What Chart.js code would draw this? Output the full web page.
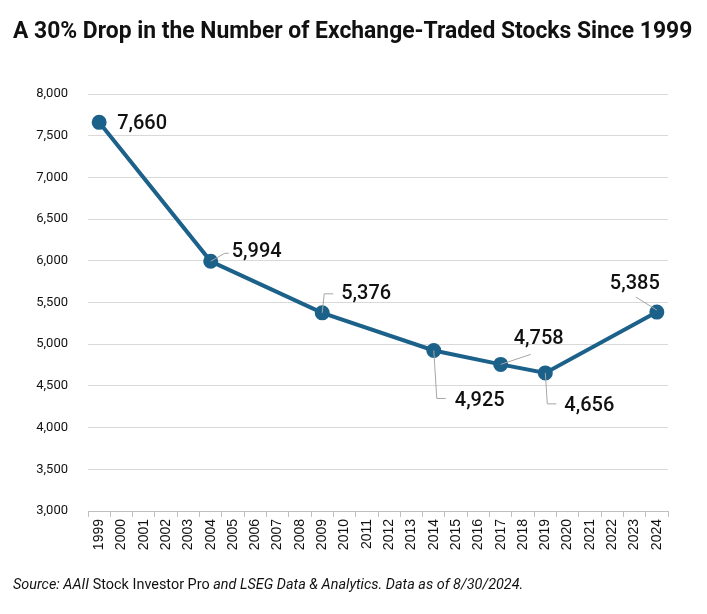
<!DOCTYPE html>
<html>
<head>
<meta charset="utf-8">
<script src="https://cdn.jsdelivr.net/npm/chart.js@4.4.1/dist/chart.umd.min.js"></script>
<style>
  body { margin: 0; background: #fff; }
  #wrap { position: relative; width: 707px; height: 614px; }
  #title { position: absolute; left: 13px; top: 17px; font: bold 23px "Roboto", sans-serif; color: #111; white-space: nowrap; transform-origin: 0 0; }
  #source { position: absolute; left: 13px; top: 576px; font: italic 14.5px "Roboto", sans-serif; color: #111; white-space: nowrap; transform-origin: 0 0; }
  #source span { font-style: normal; }
  canvas { position: absolute; left: 0; top: 0; }
</style>
</head>
<body>
<div id="wrap">
  <canvas id="stocks-chart" width="707" height="614"></canvas>
  <div id="title">A 30% Drop in the Number of Exchange-Traded Stocks Since 1999</div>
  <div id="source">Source: AAII <span>Stock Investor Pro</span> and LSEG Data &amp; Analytics. Data as of 8/30/2024.</div>
</div>
<script>
var years = ['1999','2000','2001','2002','2003','2004','2005','2006','2007','2008','2009','2010','2011','2012',
             '2013','2014','2015','2016','2017','2018','2019','2020','2021','2022','2023','2024'];
var stockCounts = [7660,null,null,null,null,5994,null,null,null,null,5376,null,null,null,
                   null,4925,null,null,4758,null,4656,null,null,null,null,5385];
var yTicks = [3000,3500,4000,4500,5000,5500,6000,6500,7000,7500,8000];

// squeeze the condensed-looking texts to the reference widths
function fitWidth(id, w) {
    var el = document.getElementById(id);
    el.style.transform = 'scaleX(' + (w / el.offsetWidth) + ')';
}
fitWidth('title', 679);
fitWidth('source', 510);

// label placement per year with a value: [dx, dy, leader points...] relative to the point
var labelPlace = {
    '1999': { dx: 18, dy: 2, leader: null },
    '2004': { dx: 21, dy: -9, leader: [[0,0],[14,-8],[18,-8]] },
    '2009': { dx: 19, dy: -19, leader: [[0,0],[2,-19],[11,-19]] },
    '2014': { dx: 21, dy: 51, leader: [[0,0],[3,48],[12,48]] },
    '2017': { dx: 13, dy: -25, leader: [[0,0],[30,-10]] },
    '2019': { dx: 19, dy: 33, leader: [[0,0],[2,31],[11,31]] },
    '2024': { dx: -47, dy: -28, leader: [[-21,-15],[0,-2]] }
};

var valueLabels = {
    id: 'valueLabels',
    afterDatasetsDraw: function(chart) {
        var ctx = chart.ctx;
        var meta = chart.getDatasetMeta(0);
        ctx.save();
        meta.data.forEach(function(pt, i) {
            var v = stockCounts[i];
            if (v === null) return;
            var p = labelPlace[years[i]];
            if (p.leader) {
                ctx.strokeStyle = '#a6a6a6';
                ctx.lineWidth = 1;
                ctx.beginPath();
                p.leader.forEach(function(q, k) {
                    if (k === 0) ctx.moveTo(pt.x + q[0], pt.y + q[1]);
                    else ctx.lineTo(pt.x + q[0], pt.y + q[1]);
                });
                ctx.stroke();
            }
            ctx.fillStyle = '#111';
            ctx.font = '500 20px Roboto, "Liberation Sans", sans-serif';
            ctx.textAlign = 'left';
            ctx.textBaseline = 'middle';
            ctx.fillText(v.toLocaleString('en-US'), pt.x + p.dx, pt.y + p.dy);
        });
        ctx.restore();
    }
};

new Chart(document.getElementById('stocks-chart'), {
    type: 'line',
    data: {
        labels: years,
        datasets: [{
            data: stockCounts,
            spanGaps: true,
            borderColor: '#1b6189',
            backgroundColor: '#1b6189',
            borderWidth: 4,
            pointRadius: 5.5,
            pointHoverRadius: 5.5,
            tension: 0,
            fill: false
        }]
    },
    options: {
        responsive: false,
        animation: false,
        events: [],
        layout: { padding: { left: 0, right: 39, top: 94, bottom: 0 } },
        plugins: { legend: { display: false }, tooltip: { enabled: false } },
        scales: {
            x: {
                offset: true,
                grid: { display: true, drawOnChartArea: false, drawTicks: true, tickLength: 6, offset: true, color: '#bfbfbf' },
                border: { display: true, color: '#bfbfbf', width: 1 },
                ticks: { minRotation: 90, maxRotation: 90, autoSkip: false, padding: 2, color: '#111',
                         font: { family: '"Liberation Sans", Arial, sans-serif', size: 14 } },
                afterFit: function(scale) { scale.height = 103; }
            },
            y: {
                min: 3000,
                max: 8000,
                afterBuildTicks: function(scale) { scale.ticks = yTicks.map(function(v) { return { value: v }; }); },
                grid: { color: '#d9d9d9', drawTicks: false, lineWidth: 1 },
                border: { display: false },
                ticks: { padding: 20, color: '#111',
                         font: { family: 'Roboto, sans-serif', size: 13 },
                         callback: function(v) { return v.toLocaleString('en-US'); } },
                afterFit: function(scale) { scale.width = 88; }
            }
        }
    },
    plugins: [valueLabels]
});
</script>
</body>
</html>
